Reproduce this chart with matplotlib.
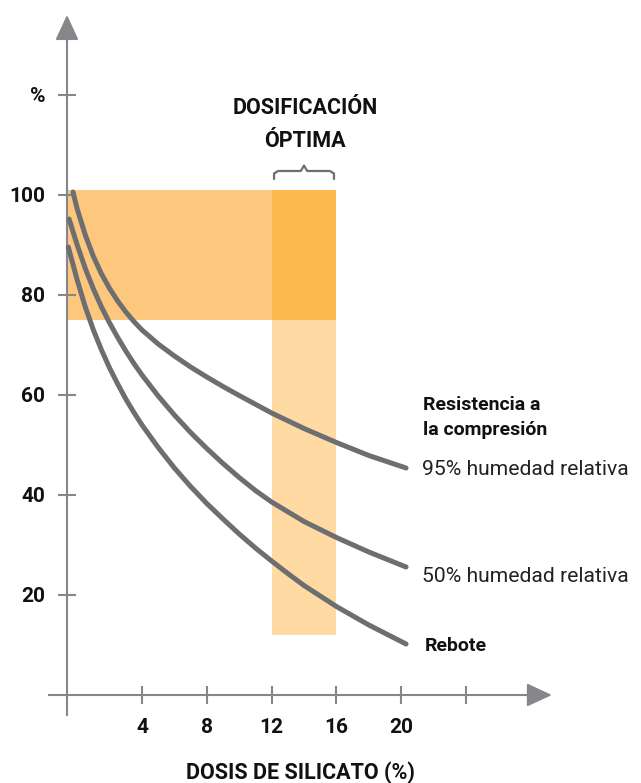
import numpy as np
import matplotlib.pyplot as plt

plt.rcParams['font.family'] = ['Roboto', 'DejaVu Sans']

# curves (x = dosis %, y = %)
x_95 = [-0.26, 0, 0.5, 1, 1.5, 2, 2.5, 3, 3.5, 4, 5, 6, 7, 8, 9, 10, 12, 14, 16, 18, 20.3]
y_95 = [100.6, 97.2, 92.0, 87.7, 84.2, 81.3, 78.8, 76.6, 74.7, 73.0, 70.2, 67.8, 65.6,
        63.6, 61.7, 59.9, 56.4, 53.3, 50.5, 47.9, 45.4]

x_50 = [-0.5, 0, 0.5, 1, 1.5, 2, 2.5, 3, 3.5, 4, 5, 6, 7, 8, 9, 10, 11, 12, 14, 16, 18, 20.3]
y_50 = [95.2, 90.0, 85.3, 81.2, 77.6, 74.4, 71.5, 68.8, 66.3, 64.0, 59.8, 56.0, 52.5,
        49.3, 46.3, 43.5, 40.9, 38.6, 34.7, 31.5, 28.6, 25.6]

x_reb = [-0.55, 0, 0.5, 1, 1.5, 2, 2.5, 3, 3.5, 4, 5, 6, 7, 8, 9, 10, 11, 12, 13, 14, 16, 18, 20.3]
y_reb = [89.6, 83.0, 77.6, 73.0, 69.0, 65.4, 62.2, 59.2, 56.5, 54.0, 49.5, 45.4, 41.7,
         38.3, 35.2, 32.2, 29.4, 26.8, 24.3, 21.9, 17.7, 14.0, 10.2]

# shaded zones
band_y = (75, 101)      # horizontal band
opt_x = (12, 16)        # optimal dose column
opt_y_low = 12

xticks = [4, 8, 12, 16, 20, 24]
xtick_labels = ['4', '8', '12', '16', '20', '']
yticks = [20, 40, 60, 80, 100, 120]
ytick_labels = ['20', '40', '60', '80', '100', '%']

gray_axis = '#87878b'
gray_line = '#6d6e71'
txt = '#111111'

fig = plt.figure(figsize=(6.41, 7.83), dpi=100)
ax = fig.add_axes([0, 0, 1, 1])
ax.set_xlim(-4.765, 34.80)
ax.set_ylim(-17.6, 139)

yaxis_x = -0.63

# zones
ax.fill_between([yaxis_x + 0.05, opt_x[1]], band_y[0], band_y[1], color='#fdc87d', lw=0, zorder=1)
ax.fill_between(list(opt_x), opt_y_low, band_y[0], color='#ffdaa3', lw=0, zorder=1)
ax.fill_between(list(opt_x), band_y[0], band_y[1], color='#fbb950', lw=0, zorder=1)

# curves
for xs, ys in [(x_95, y_95), (x_50, y_50), (x_reb, y_reb)]:
    ax.plot(xs, ys, color=gray_line, lw=3.6, solid_capstyle='round',
            solid_joinstyle='round', zorder=3)

# axes
for s in ['top', 'right']:
    ax.spines[s].set_visible(False)
ax.spines['left'].set_position(('data', yaxis_x))
ax.spines['bottom'].set_position(('data', 0))
ax.spines['left'].set_bounds(-4, 132)
ax.spines['bottom'].set_bounds(-1.74, 28.2)
for s in ['left', 'bottom']:
    ax.spines[s].set_color(gray_axis)
    ax.spines[s].set_linewidth(1.5)

ax.annotate('', xy=(yaxis_x, 136), xytext=(yaxis_x, 131.4),
            arrowprops=dict(arrowstyle='-|>,head_length=1.55,head_width=0.72',
                            color=gray_axis, lw=1.5, shrinkA=0, shrinkB=0,
                            mutation_scale=10))
ax.annotate('', xy=(29.3, 0), xytext=(27.9, 0),
            arrowprops=dict(arrowstyle='-|>,head_length=1.55,head_width=0.72',
                            color=gray_axis, lw=1.5, shrinkA=0, shrinkB=0,
                            mutation_scale=10))

ax.set_xticks(xticks, xtick_labels)
ax.set_yticks(yticks, ytick_labels)
ax.tick_params(direction='inout', length=13, width=1.5, color=gray_axis,
               labelsize=15, labelcolor=txt)
ax.tick_params(axis='y', pad=9)
ax.tick_params(axis='x', pad=10)
for lab in ax.get_xticklabels() + ax.get_yticklabels():
    lab.set_fontweight('bold')

# brace over optimal column
bx0, bx1 = 12.15, 15.85
bxm = (bx0 + bx1) / 2
ax.plot([bx0, bx0, bx0 + 0.25, bxm - 0.2, bxm, bxm + 0.2, bx1 - 0.25, bx1, bx1],
        [103.2, 104.3, 104.8, 104.8, 105.9, 104.8, 104.8, 104.3, 103.2],
        color=gray_line, lw=1.6, solid_joinstyle='round', solid_capstyle='round')

# texts
ax.text(bxm + 0.05, 109.6, 'DOSIFICACIÓN\nÓPTIMA', ha='center', va='baseline',
        fontsize=15.5, fontweight='bold', color=txt, linespacing=1.65)
ax.text(21.36, 52, 'Resistencia a\nla compresión', ha='left', va='baseline',
        fontsize=14, fontweight='bold', color=txt, linespacing=1.5)
ax.text(21.3, 44, '95% humedad relativa', ha='left', va='baseline',
        fontsize=15.2, fontweight='normal', color='#222222')
ax.text(21.3, 22.6, '50% humedad relativa', ha='left', va='baseline',
        fontsize=15.2, fontweight='normal', color='#222222')
ax.text(21.47, 8.8, 'Rebote', ha='left', va='baseline',
        fontsize=14, fontweight='bold', color=txt)
ax.text(13.77, -16.8, 'DOSIS DE SILICATO (%)', ha='center', va='baseline',
        fontsize=15.5, fontweight='bold', color=txt)

fig.savefig('out.png', dpi=100)
